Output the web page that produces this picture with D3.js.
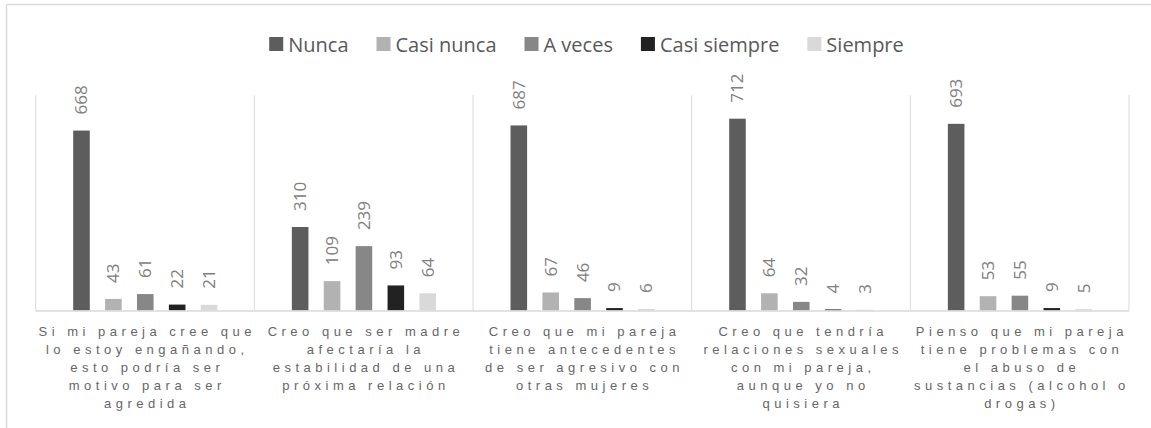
<!DOCTYPE html>
<html>
<head>
    <title>frecuencias por afirmación</title>
    <script src="https://d3js.org/d3.v7.min.js"></script>
    <style>
        body { margin: 0; background: #fff; }
        text { font-family: "Open Sans", sans-serif; }
        .cat { font-family: "Liberation Sans", Arial, sans-serif; }
    </style>
</head>
<body>
    <svg id="chart"></svg>

    <script>

        // data
        var series = ["Nunca", "Casi nunca", "A veces", "Casi siempre", "Siempre"];
        var colors = ["#5d5d5d", "#b2b2b2", "#878787", "#222222", "#d9d9d9"];

        var categories = [
            ["Si mi pareja cree que", "lo estoy engañando,", "esto podría ser", "motivo para ser", "agredida"],
            ["Creo que ser madre", "afectaría la", "estabilidad de una", "próxima relación"],
            ["Creo que mi pareja", "tiene antecedentes", "de ser agresivo con", "otras mujeres"],
            ["Creo que tendría", "relaciones sexuales", "con mi pareja,", "aunque yo no", "quisiera"],
            ["Pienso que mi pareja", "tiene problemas con", "el abuso de", "sustancias (alcohol o", "drogas)"]
        ];

        var nunca       = [668, 310, 687, 712, 693];
        var casiNunca   = [43, 109, 67, 64, 53];
        var aVeces      = [61, 239, 46, 32, 55];
        var casiSiempre = [22, 93, 9, 4, 9];
        var siempre     = [21, 64, 6, 3, 5];

        var values = [nunca, casiNunca, aVeces, casiSiempre, siempre];
        var yMax = 800;

        var width = 1151;
        var height = 428;
        var margin = {top: 95, right: 22, bottom: 117.5, left: 35.7};

        var svg = d3.select("#chart")
                    .attr("width", width)
                    .attr("height", height);

        // frame (only top and left show in the crop)
        svg.append("line")
            .attr("x1", 6.5).attr("x2", width).attr("y1", 4.5).attr("y2", 4.5)
            .attr("stroke", "#d9d9d9").attr("stroke-width", 1.5);
        svg.append("line")
            .attr("x1", 6.5).attr("x2", 6.5).attr("y1", 4.5).attr("y2", height)
            .attr("stroke", "#d9d9d9").attr("stroke-width", 1.5);

        var x0 = d3.scaleBand()
            .domain(d3.range(categories.length))
            .range([margin.left, width - margin.right]);

        var x1 = d3.scaleBand()
            .domain(d3.range(series.length))
            .range([37.5, x0.bandwidth() - 37])
            .paddingInner(0.48);

        var y = d3.scaleLinear()
            .domain([0, yMax])
            .range([height - margin.bottom, margin.top]);

        // category dividers
        var edges = d3.range(categories.length + 1).map(function(i) {
            return i < categories.length ? x0(i) : x0(i - 1) + x0.bandwidth();
        });
        svg.append("g").selectAll("line")
            .data(edges)
            .enter().append("line")
            .attr("x1", function(d) { return d; })
            .attr("x2", function(d) { return d; })
            .attr("y1", y(yMax))
            .attr("y2", y(0))
            .attr("stroke", "#d9d9d9")
            .attr("stroke-width", 1);

        // bars
        var groups = svg.append("g").selectAll("g")
            .data(categories)
            .enter().append("g")
            .attr("transform", function(d, i) { return "translate(" + x0(i) + ",0)"; });

        groups.selectAll("rect")
            .data(function(d, i) {
                return series.map(function(s, j) { return {s: j, v: values[j][i]}; });
            })
            .enter().append("rect")
            .attr("x", function(d) { return x1(d.s); })
            .attr("width", x1.bandwidth())
            .attr("y", function(d) { return y(d.v); })
            .attr("height", function(d) { return y(0) - y(d.v); })
            .attr("fill", function(d) { return colors[d.s]; });

        groups.selectAll(".val")
            .data(function(d, i) {
                return series.map(function(s, j) { return {s: j, v: values[j][i]}; });
            })
            .enter().append("text")
            .attr("class", "val")
            .attr("transform", function(d) {
                return "translate(" + (x1(d.s) + x1.bandwidth() / 2) + "," + (y(d.v) - 16) + ") rotate(-90)";
            })
            .attr("dy", "0.35em")
            .attr("fill", "#808080")
            .style("font-size", "17px")
            .text(function(d) { return d.v; });

        // baseline
        svg.append("line")
            .attr("x1", x0.range()[0]).attr("x2", x0.range()[1])
            .attr("y1", y(0) + 0.5).attr("y2", y(0) + 0.5)
            .attr("stroke", "#d9d9d9").attr("stroke-width", 1.5);

        // category labels
        var spacing = 4.5;
        svg.append("g").selectAll("text")
            .data(categories)
            .enter().append("text")
            .attr("class", "cat")
            .attr("text-anchor", "middle")
            .attr("fill", "#666666")
            .style("font-size", "13px")
            .style("letter-spacing", spacing + "px")
            .each(function(lines, i) {
                var t = d3.select(this);
                lines.forEach(function(line, k) {
                    t.append("tspan")
                        .attr("x", x0(i) + x0.bandwidth() / 2 + spacing / 2)
                        .attr("y", 336 + k * 18)
                        .text(line);
                });
            });

        // legend
        var legend = svg.append("g");
        var items = legend.selectAll("g")
            .data(series)
            .enter().append("g");

        items.append("rect")
            .attr("width", 14)
            .attr("height", 14)
            .attr("y", 37)
            .attr("fill", function(d, i) { return colors[i]; });

        items.append("text")
            .attr("x", 19)
            .attr("y", 51.5)
            .attr("fill", "#595959")
            .style("font-size", "20px")
            .text(function(d) { return d; });

        var pos = 0;
        var offsets = [];
        items.each(function() {
            offsets.push(pos);
            pos += 19 + d3.select(this).select("text").node().getComputedTextLength() + 28;
        });
        var total = pos - 28;
        var start = 586.5 - total / 2;
        items.attr("transform", function(d, i) { return "translate(" + (start + offsets[i]) + ",0)"; });

    </script>

</body>
</html>
